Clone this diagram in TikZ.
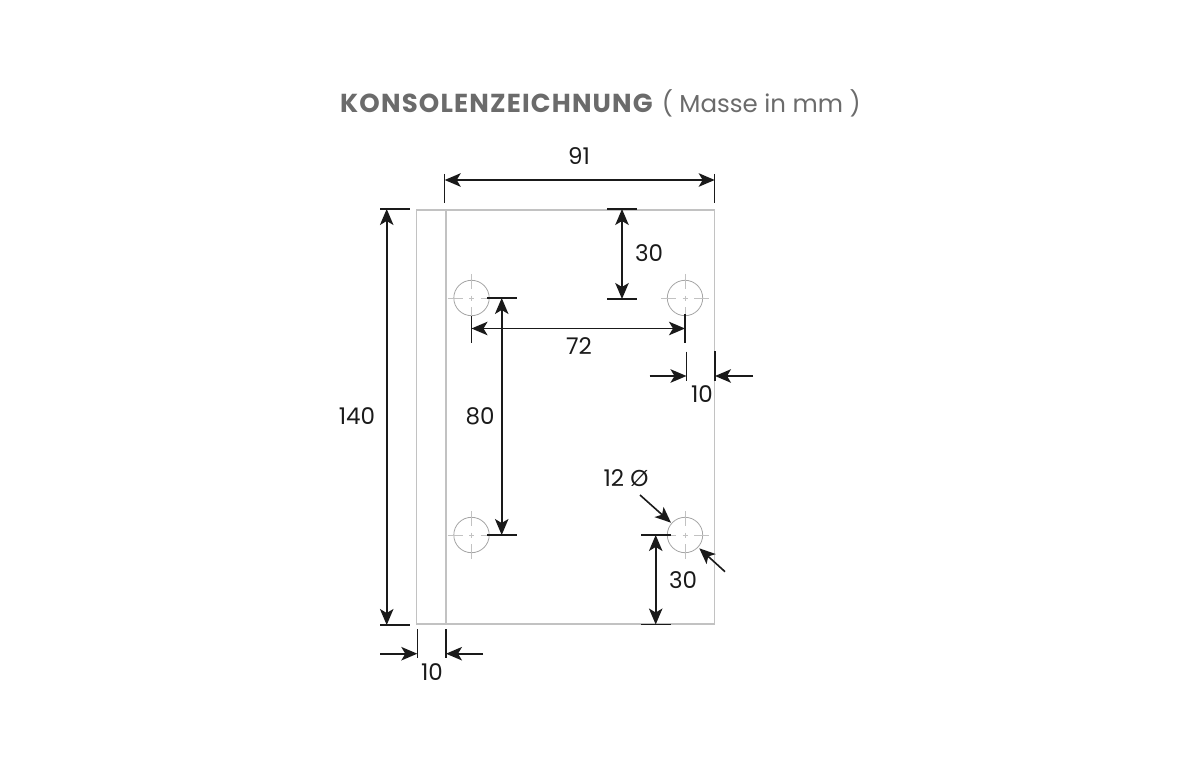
\documentclass[tikz,border=0pt]{standalone}
\usepackage{fontspec}
\setmainfont{Poppins}
\newfontfamily\titlebold[LetterSpace=4.5]{Poppins}
\usetikzlibrary{arrows.meta}
\definecolor{plate}{HTML}{C2C2C2}
\definecolor{ink}{HTML}{1A1A1A}
\definecolor{titlegray}{HTML}{6B6B6B}
\tikzset{
  x=1pt,y=-1pt,
  plateline/.style={draw=plate,line width=1.1pt},
  holeline/.style={draw=plate!85!black,line width=0.8pt},
  centerline/.style={draw=plate,line width=0.8pt},
  tickline/.style={draw=ink,line width=1.5pt},
  dimline/.style={draw=ink,line width=1.6pt,{Stealth[length=16pt,width=13.5pt,inset=4pt]}-{Stealth[length=16pt,width=13.5pt,inset=4pt]}},
  leader/.style={draw=ink,line width=1.6pt,-{Stealth[length=16pt,width=13.5pt,inset=4pt]}},
  dimlabel/.style={text=ink,font=\fontsize{23}{26}\selectfont,inner sep=0pt,anchor=center},
  pics/drill/.style={code={
    \draw[holeline] (0,0) circle (17.7);
    \draw[centerline] (-24,0)--(-9,0) (-2.5,0)--(2.5,0) (9,0)--(24,0)
      (0,-24)--(0,-9) (0,-2.5)--(0,2.5) (0,9)--(0,24);
  }}
}
\begin{document}
\begin{tikzpicture}
\useasboundingbox (0,0) rectangle (1200,762);
\node[inner sep=0pt,anchor=west,text=titlegray] (title) at (340,103)
  {{\fontsize{26}{28}\titlebold\bfseries KONSOLENZEICHNUNG}\hspace{9pt}{\fontsize{24.5}{28}\selectfont( Masse in mm )}};
% plate
\draw[plateline] (416.7,210) rectangle (714.7,624);
\draw[plateline] (446,210) -- (446,624);
\pic at (471.5,298) {drill};
\pic at (685,298) {drill};
\pic at (471.5,535) {drill};
\pic at (685,535) {drill};
% 91
\coordinate (a1) at (444.7,180); \coordinate (a2) at (714.7,180);
\draw[tickline] (444.7,174) -- (444.7,203.5) (714.7,174) -- (714.7,203.5);
\draw[dimline] (a1) -- (a2);
\node[dimlabel] (l91) at (579,156) {91};
% 30 top
\coordinate (b1) at (622,209); \coordinate (b2) at (622,299);
\draw[tickline] (607,209) -- (637,209) (607,299) -- (637,299);
\draw[dimline] (b1) -- (b2);
\node[dimlabel] (l30a) at (649,253) {30};
% 72
\coordinate (c1) at (471.5,328.5); \coordinate (c2) at (685,328.5);
\draw[tickline] (471.3,316) -- (471.3,343) (685,314) -- (685,343);
\draw[dimline] (c1) -- (c2);
\node[dimlabel] (l72) at (579,346) {72};
% 10 right
\coordinate (d1) at (649.5,376); \coordinate (d2) at (686.5,376);
\coordinate (d3) at (753,376); \coordinate (d4) at (715,376);
\draw[tickline] (686.5,351.5) -- (686.5,381) (715,351) -- (715,381);
\draw[leader] (d1) -- (d2);
\draw[leader] (d3) -- (d4);
\node[dimlabel] (l10a) at (702,394) {10};
% 80
\coordinate (e1) at (501.7,298); \coordinate (e2) at (501.7,535);
\draw[tickline] (487,298) -- (517,298) (487,535) -- (517,535);
\draw[dimline] (e1) -- (e2);
\node[dimlabel] (l80) at (480,416) {80};
% 140
\coordinate (f1) at (386.7,209); \coordinate (f2) at (386.7,625);
\draw[tickline] (380,209) -- (410,209) (380,625) -- (410,625);
\draw[dimline] (f1) -- (f2);
\node[dimlabel] (l140) at (357,416) {140};
% 10 left
\coordinate (g1) at (380,653.7); \coordinate (g2) at (417.3,653.7);
\coordinate (g3) at (483,653.7); \coordinate (g4) at (446,653.7);
\draw[tickline] (417.3,629) -- (417.3,658) (446,629) -- (446,658);
\draw[leader] (g1) -- (g2);
\draw[leader] (g3) -- (g4);
\node[dimlabel] (l10b) at (432,672) {10};
% 12 dia
\node[dimlabel] (l12) at (626,478) {12 Ø};
\coordinate (h1) at (640,495); \coordinate (h2) at (671,522.7);
\coordinate (h3) at (725,571.7); \coordinate (h4) at (699.3,548.3);
\draw[leader] (h1) -- (h2);
\draw[leader] (h3) -- (h4);
% 30 bottom
\coordinate (i1) at (655.7,535); \coordinate (i2) at (655.7,624.5);
\draw[tickline] (641,535) -- (671,535);
\draw[tickline,line width=1.9pt] (641,624.5) -- (670.5,624.5);
\draw[dimline] (i1) -- (i2);
\node[dimlabel] (l30b) at (683,580) {30};
\end{tikzpicture}
\end{document}
